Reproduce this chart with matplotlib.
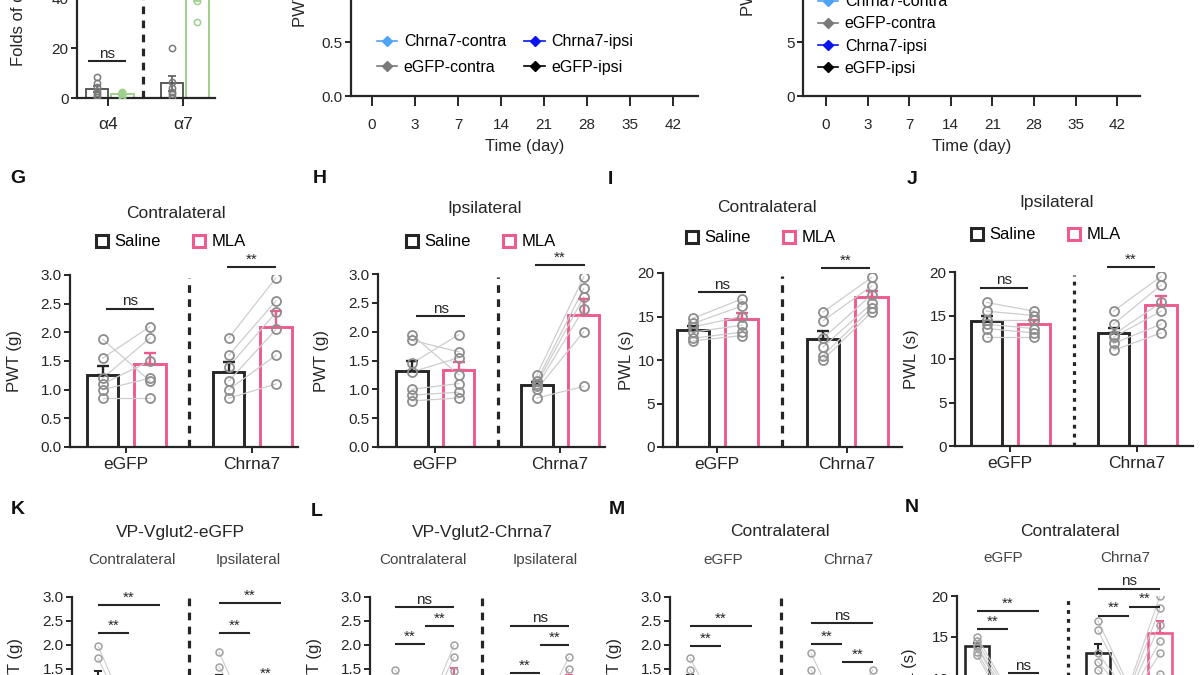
import numpy as np
import matplotlib
matplotlib.use("Agg")
import matplotlib.pyplot as plt
from matplotlib.lines import Line2D
from matplotlib.ticker import FormatStrFormatter

plt.rcParams['font.family'] = ['Liberation Sans', 'DejaVu Sans']

# ======================= DATA =======================
# top-left: fold change of nAChR subunits
subunits = ["α4", "α7"]
fold_egfp = [[8.4, 6.0, 4.5, 3.0, 2.0, 1.2, 0.5], [20.0, 6.5, 4.0, 2.5, 1.5, 0.5]]
fold_chrna7 = [[2.6, 2.0, 1.5, 1.0, 0.6], [30.5, 39.0, 52.0, 60.0]]

# time courses (values lie above the visible crop)
days = [0, 3, 7, 14, 21, 28, 35, 42]
series_names = ["Chrna7-contra", "eGFP-contra", "Chrna7-ipsi", "eGFP-ipsi"]
pwt_chrna7_contra = [1.55, 1.30, 1.22, 1.18, 1.20, 1.25, 1.30, 1.35]
pwt_egfp_contra = [1.58, 1.50, 1.52, 1.48, 1.55, 1.52, 1.56, 1.50]
pwt_chrna7_ipsi = [1.60, 1.25, 1.15, 1.12, 1.14, 1.20, 1.24, 1.30]
pwt_egfp_ipsi = [1.55, 1.52, 1.48, 1.50, 1.47, 1.52, 1.50, 1.55]
pwl_chrna7_contra = [14.5, 12.5, 12.0, 11.8, 12.0, 12.3, 12.8, 13.0]
pwl_egfp_contra = [14.2, 14.0, 13.8, 14.1, 13.9, 14.2, 14.0, 14.3]
pwl_chrna7_ipsi = [14.8, 12.2, 11.8, 11.6, 11.9, 12.2, 12.5, 12.9]
pwl_egfp_ipsi = [14.5, 14.2, 14.4, 14.0, 14.3, 14.1, 14.4, 14.2]

# G-J: saline vs MLA (paired)
categories = ["eGFP", "Chrna7"]
g_saline = [[1.88, 1.55, 1.20, 1.10, 1.00, 0.85], [1.90, 1.60, 1.40, 1.15, 1.00, 0.85]]
g_mla = [[1.15, 2.10, 1.90, 1.50, 1.20, 0.85], [2.95, 2.55, 2.35, 2.05, 1.60, 1.10]]
h_saline = [[1.95, 1.85, 1.45, 1.30, 1.00, 0.90, 0.80], [1.25, 1.15, 1.10, 1.05, 1.00, 0.85]]
h_mla = [[1.25, 1.65, 1.95, 1.55, 1.10, 0.95, 0.85], [2.95, 2.75, 2.60, 2.40, 2.00, 1.05]]
i_saline = [[14.8, 14.2, 13.8, 13.2, 12.5, 12.2], [15.5, 14.5, 12.5, 11.5, 10.5, 10.0]]
i_mla = [[17.0, 16.2, 15.0, 14.0, 13.2, 12.8], [19.5, 18.5, 17.5, 16.5, 16.0, 15.5]]
j_saline = [[16.5, 15.5, 14.5, 14.0, 13.5, 12.5], [15.5, 14.0, 12.8, 12.5, 11.8, 11.0]]
j_mla = [[15.5, 15.0, 14.5, 13.5, 13.0, 12.5], [19.5, 18.5, 16.5, 15.5, 14.0, 13.0]]

# K-N: three time points per half (only the top is visible)
k_groups = [[1.98, 1.72, 1.20, 1.00, 0.85, 0.70], [0.50, 0.40, 0.35, 0.30, 0.25, 0.20],
            [0.80, 0.70, 0.60, 0.50, 0.40, 0.35],
            [1.85, 1.55, 1.20, 1.00, 0.85, 0.70], [0.45, 0.40, 0.35, 0.30, 0.25, 0.20],
            [0.90, 0.80, 0.70, 0.60, 0.50, 0.40]]
l_groups = [[1.48, 1.30, 1.10, 1.00, 0.90, 0.80], [0.50, 0.45, 0.40, 0.35, 0.30, 0.25],
            [2.00, 1.75, 1.45, 1.15, 0.90, 0.60],
            [1.30, 1.20, 1.10, 1.00, 0.90, 0.80], [0.55, 0.45, 0.40, 0.35, 0.30, 0.25],
            [1.75, 1.50, 1.30, 1.10, 0.90, 0.70]]
m_groups = [[1.73, 1.48, 1.30, 1.10, 0.95, 0.80], [0.50, 0.40, 0.35, 0.30, 0.25, 0.20],
            [0.60, 0.50, 0.45, 0.40, 0.35, 0.30],
            [1.83, 1.48, 1.20, 1.00, 0.90, 0.80], [0.50, 0.45, 0.40, 0.35, 0.30, 0.25],
            [1.48, 1.30, 1.10, 0.90, 0.80, 0.60]]
n_groups = [[15.0, 14.5, 14.0, 13.8, 13.2, 12.8], [8.5, 8.0, 7.5, 7.0, 6.5, 6.0],
            [9.0, 8.5, 8.0, 7.5, 7.0, 6.5],
            [17.0, 15.8, 13.0, 12.0, 11.0, 9.2], [9.0, 8.5, 8.0, 7.5, 7.0, 6.5],
            [20.0, 18.5, 16.5, 14.5, 13.0, 10.5]]

# ======================= STYLE / LAYOUT =======================
W, H = 1200, 675
fig = plt.figure(figsize=(W / 100, H / 100), dpi=100)

INK = '#262626'
PINK = '#EE5B8E'
GREEN = '#9DD08C'
PT = '#8e8e8e'
LINK = '#cdcdcd'

FS_TICK = 11
FS_CAT = 12.5
FS_TITLE = 12.5
FS_LAB = 12
FS_LEG = 12
FS_SIG = 11
FS_SUB = 11


def px_axes(x0, x1, y_top, y_bot):
    return fig.add_axes([x0 / W, 1 - y_bot / H, (x1 - x0) / W, (y_bot - y_top) / H])


def ftext(x, y, s, **kw):
    fig.text(x / W, 1 - y / H, s, **kw)


def style(ax):
    for s in ['top', 'right']:
        ax.spines[s].set_visible(False)
    for s in ['left', 'bottom']:
        ax.spines[s].set_linewidth(1.6)
        ax.spines[s].set_color(INK)
    ax.tick_params(width=1.4, length=4, color=INK, labelsize=FS_TICK, labelcolor=INK, pad=2)
    ax.patch.set_alpha(0)


def sig(ax, x1, x2, y, txt, fs=FS_SIG):
    ax.plot([x1, x2], [y, y], color=INK, lw=1.5, clip_on=False, solid_capstyle='butt', zorder=6)
    ax.annotate(txt, ((x1 + x2) / 2, y), xytext=(0, 0.3), textcoords='offset points',
                ha='center', va='bottom', fontsize=fs, color=INK, annotation_clip=False)


def sep(ax, x, y0, y1, dotted=False):
    ls = (0, (1.2, 1.6)) if dotted else (0, (2.4, 2.0))
    ax.plot([x, x], [y0, y1], color=INK, lw=2.3, ls=ls, clip_on=False, zorder=1)


def letter(x, y, s):
    ftext(x, y, s, fontsize=14, fontweight='bold', ha='center', va='center', color='#111')


# ---------------- top-left: fold change ----------------
ax = px_axes(77, 215, -52, 98)
style(ax)
ax.set_ylim(0, 60)
ax.set_xlim((77 - 108) / 75, (215 - 108) / 75)
for gi in range(2):
    for vals, off, col in ((fold_egfp[gi], -0.15, '#5a5a5a'), (fold_chrna7[gi], 0.19, GREEN)):
        v = np.array(vals)
        mean = v.mean()
        sem = v.std(ddof=1) / np.sqrt(len(v))
        ax.bar(gi + off, mean, width=0.3, facecolor='none', edgecolor=col, lw=1.4, zorder=2)
        ax.errorbar(gi + off, mean, yerr=sem, fmt='none', ecolor=col, elinewidth=1.2,
                    capsize=3, capthick=1.2, zorder=3)
        ax.plot(np.full(len(v), gi + off), v, 'o', ms=4.5, mfc='none',
                mec=('#7a7a7a' if col != GREEN else GREEN), mew=1.1, zorder=4)
ax.set_yticks([0, 20, 40, 60])
ax.set_xticks([0, 1])
ax.set_xticklabels(subunits, fontsize=FS_CAT)
ax.tick_params(axis='x', length=6, pad=8)
ax.set_ylabel("Folds of change", fontsize=FS_LAB, color=INK)
ax.yaxis.set_label_coords((26 - 77) / 138, 0.613)
sep(ax, 0.47, 0, 60)
sig(ax, -0.27, 0.24, 14.8, "ns")

# ---------------- time courses ----------------
colors_tc = {"Chrna7-contra": '#4FA3F7', "eGFP-contra": '#7a7a7a',
             "Chrna7-ipsi": '#0a14f0', "eGFP-ipsi": '#000000'}
pwt = {"Chrna7-contra": pwt_chrna7_contra, "eGFP-contra": pwt_egfp_contra,
       "Chrna7-ipsi": pwt_chrna7_ipsi, "eGFP-ipsi": pwt_egfp_ipsi}
pwl = {"Chrna7-contra": pwl_chrna7_contra, "eGFP-contra": pwl_egfp_contra,
       "Chrna7-ipsi": pwl_chrna7_ipsi, "eGFP-ipsi": pwl_egfp_ipsi}


def time_panel(x0, x1, t0, step, ytop, ybot, ylim, yticks, fmt, data, ylabel, lab_x, lab_frac):
    ax = px_axes(x0, x1, ytop, ybot)
    style(ax)
    ax.set_ylim(*ylim)
    ax.set_xlim((x0 - t0) / step, (x1 - t0) / step)
    idx = np.arange(len(days))
    handles = []
    for name in series_names:
        ln, = ax.plot(idx, data[name], '-D', color=colors_tc[name], ms=5.5, lw=1.2, label=name)
        handles.append(ln)
    ax.set_xticks(idx)
    ax.set_xticklabels([str(d) for d in days], fontsize=FS_TICK)
    ax.set_yticks(yticks)
    ax.yaxis.set_major_formatter(FormatStrFormatter(fmt))
    ax.tick_params(axis='x', length=7, pad=9)
    ax.set_xlabel("Time (day)", fontsize=FS_LAB, color=INK, labelpad=5)
    ax.set_ylabel(ylabel, fontsize=FS_LAB, color=INK)
    ax.yaxis.set_label_coords((lab_x - x0) / (x1 - x0), lab_frac)
    return ax, handles


TL_FS = 11.5
em = TL_FS * 100 / 72
axm, hm = time_panel(351, 698, 372, 43, -120, 96, (0, 2.0), [0, 0.5, 1.0, 1.5, 2.0], '%.1f',
                     pwt, "PWT (g)", 308, (96 + 4) / 216)
fig.legend(hm, series_names, loc='center left',
           bbox_to_anchor=((387 - 0.65 * em) / W, 1 - 54.5 / H),
           ncol=2, frameon=False, fontsize=TL_FS, handlelength=1.3, handletextpad=0.4,
           columnspacing=1.15, labelspacing=0.67, borderpad=0, borderaxespad=0)

axr, hr = time_panel(803, 1140, 826, 41.6, -120, 96, (0, 20), [0, 5, 10, 15, 20], '%d',
                     pwl, "PWL (s)", 756, (96 + 14) / 216)
fig.legend(hr, series_names, loc='center left',
           bbox_to_anchor=((828 - 0.65 * em) / W, 1 - 35 / H),
           ncol=1, frameon=False, fontsize=TL_FS, handlelength=1.3, handletextpad=0.4,
           labelspacing=0.45, borderpad=0, borderaxespad=0)


# ---------------- G-J ----------------
def pair_panel(x0, x1, ytop, ybot, t0, t1, ylim, yticks, fmt, saline, mla, ylabel, lab_x,
               title, title_xy, leg_xy, sigs, dotted=False):
    ax = px_axes(x0, x1, ytop, ybot)
    style(ax)
    ax.set_xlim((x0 - t0) / (t1 - t0), (x1 - t0) / (t1 - t0))
    ax.set_ylim(*ylim)
    for gi in range(2):
        s = np.array(saline[gi])
        m = np.array(mla[gi])
        xs, xm = gi - 0.185, gi + 0.19
        for a, b in zip(s, m):
            ax.plot([xs, xm], [a, b], color=LINK, lw=0.9, zorder=3)
        for vals, xc, col in ((s, xs, INK), (m, xm, PINK)):
            mean = vals.mean()
            sem = vals.std(ddof=1) / np.sqrt(len(vals))
            ax.bar(xc, mean, width=0.25, facecolor='white', edgecolor=col, lw=2.1, zorder=2)
            ax.errorbar(xc, mean, yerr=[[0], [sem]], fmt='none', ecolor=col, elinewidth=1.7,
                        capsize=4, capthick=1.7, zorder=4)
            ax.plot(np.full(len(vals), xc), vals, 'o', ms=6.5, mfc='none', mec=PT, mew=1.3, zorder=5)
    sep(ax, 0.5, ylim[0], ylim[1] * 0.985, dotted)
    ax.set_yticks(yticks)
    ax.yaxis.set_major_formatter(FormatStrFormatter(fmt))
    ax.set_xticks([0, 1])
    ax.set_xticklabels(categories, fontsize=FS_CAT)
    ax.tick_params(axis='x', pad=3.5)
    ax.set_ylabel(ylabel, fontsize=FS_LAB, color=INK)
    ax.yaxis.set_label_coords((lab_x - x0) / (x1 - x0), 0.5)
    for (xa, xb, y, txt) in sigs:
        sig(ax, xa, xb, y, txt)
    ftext(title_xy[0], title_xy[1], title, fontsize=FS_TITLE, ha='center', va='center', color=INK)
    hs = [Line2D([], [], marker='s', ls='none', mfc='white', mec=INK, mew=2.2, ms=8),
          Line2D([], [], marker='s', ls='none', mfc='white', mec=PINK, mew=2.2, ms=8)]
    lem = FS_LEG * 100 / 72
    fig.legend(hs, ['Saline', 'MLA'], loc='center left',
               bbox_to_anchor=((leg_xy[0] - 0.35 * lem) / W, 1 - leg_xy[1] / H), ncol=2,
               frameon=False, fontsize=FS_LEG, handlelength=0.7, handletextpad=0.4,
               columnspacing=1.95, borderpad=0, borderaxespad=0)
    return ax


pair_panel(70, 298, 275, 447, 126, 252, (0, 3), np.arange(0, 3.01, 0.5), '%.1f',
           g_saline, g_mla, "PWT (g)", 22, "Contralateral", (176, 213), (102, 242),
           [(-0.16, 0.22, 2.41, "ns"), (0.80, 1.19, 3.14, "**")])
pair_panel(378, 605, 274, 447, 435, 560, (0, 3), np.arange(0, 3.01, 0.5), '%.1f',
           h_saline, h_mla, "PWT (g)", 329, "Ipsilateral", (485, 208), (412, 242),
           [(-0.15, 0.24, 2.27, "ns"), (-0.2 + 1, 0.2 + 1, 3.16, "**")])
pair_panel(663, 902, 273, 447, 717, 847, (0, 20), [0, 5, 10, 15, 20], '%d',
           i_saline, i_mla, "PWL (s)", 634, "Contralateral", (767, 208), (692, 238),
           [(-0.15, 0.22, 17.8, "ns"), (0.8, 1.18, 20.6, "**")])
pair_panel(955, 1193, 272, 446, 1010, 1137, (0, 20), [0, 5, 10, 15, 20], '%d',
           j_saline, j_mla, "PWL (s)", 919, "Ipsilateral", (1057, 202), (977, 235),
           [(-0.24, 0.14, 18.2, "ns"), (-0.24 + 1, 0.14 + 1, 20.6, "**")], dotted=True)


# ---------------- K-N ----------------
POS = [0, 1, 2, 3.9, 4.9, 5.9]
GCOL = [INK, INK, PINK, INK, INK, PINK]


def seq_panel(x0, x1, ytop, ybot, g1, unit, ylim, yticks, fmt, groups, ylabel, lab_x,
              title, title_xy, subs, sub_xy, sigs, dotted=False):
    ax = px_axes(x0, x1, ytop, ybot)
    style(ax)
    ax.set_xlim((x0 - g1) / unit, (x1 - g1) / unit)
    ax.set_ylim(*ylim)
    for half in (0, 3):
        for k in range(2):
            a = groups[half + k]
            b = groups[half + k + 1]
            for va, vb in zip(a, b):
                ax.plot([POS[half + k], POS[half + k + 1]], [va, vb], color=LINK, lw=0.8, zorder=3)
    for p, vals, col in zip(POS, groups, GCOL):
        v = np.array(vals)
        mean = v.mean()
        sem = v.std(ddof=1) / np.sqrt(len(v))
        ax.bar(p, mean, width=0.8, facecolor='white', edgecolor=col, lw=1.9, zorder=2)
        ax.errorbar(p, mean, yerr=[[0], [sem]], fmt='none', ecolor=col, elinewidth=1.5,
                    capsize=3, capthick=1.5, zorder=4)
        ax.plot(np.full(len(v), p), v, 'o', ms=5, mfc='none', mec='#a0a0a0', mew=1.1, zorder=5)
    sep(ax, 2.95, ylim[0], ylim[1] * 0.99, dotted)
    ax.set_yticks(yticks)
    ax.yaxis.set_major_formatter(FormatStrFormatter(fmt))
    ax.set_xticks([])
    ax.set_ylabel(ylabel, fontsize=FS_LAB, color=INK)
    ax.yaxis.set_label_coords((lab_x - x0) / (x1 - x0), 0.5)
    for (i, j, y, txt) in sigs:
        sig(ax, POS[i], POS[j], y, txt)
    ftext(title_xy[0], title_xy[1], title, fontsize=FS_TITLE, ha='center', va='center', color=INK)
    for s, (sx, sy) in zip(subs, sub_xy):
        ftext(sx, sy, s, fontsize=FS_SUB, ha='center', va='center', color='#444')
    return ax


seq_panel(72, 295, 597, 741, 98, 31, (0, 3), np.arange(0, 3.01, 0.5), '%.1f', k_groups,
          "PWT (g)", 23, "VP-Vglut2-eGFP", (180, 533), ["Contralateral", "Ipsilateral"],
          [(132, 560), (248, 560)],
          [(0, 2, 2.83, "**"), (0, 1, 2.25, "**"), (3, 5, 2.88, "**"), (3, 4, 2.25, "**"),
           (4, 5, 1.25, "**")])
seq_panel(370, 590, 597, 741, 395, 29.5, (0, 3), np.arange(0, 3.01, 0.5), '%.1f', l_groups,
          "PWT (g)", 322, "VP-Vglut2-Chrna7", (482, 532), ["Contralateral", "Ipsilateral"],
          [(423, 560), (545, 560)],
          [(0, 2, 2.79, "ns"), (1, 2, 2.40, "**"), (0, 1, 2.02, "**"),
           (3, 5, 2.40, "ns"), (4, 5, 2.00, "**"), (3, 4, 1.42, "**")])
seq_panel(670, 895, 597, 741, 690, 31, (0, 3), np.arange(0, 3.01, 0.5), '%.1f', m_groups,
          "PWT (g)", 622, "Contralateral", (780, 532), ["eGFP", "Chrna7"],
          [(723, 560), (848, 560)],
          [(0, 2, 2.40, "**"), (0, 1, 1.98, "**"), (3, 5, 2.46, "ns"), (3, 4, 2.02, "**"),
           (4, 5, 1.65, "**")])
seq_panel(957, 1190, 596, 760, 977, 31, (0, 20), [0, 5, 10, 15, 20], '%d', n_groups,
          "PWL (s)", 917, "Contralateral", (1070, 532), ["eGFP", "Chrna7"],
          [(1003, 558), (1125, 558)],
          [(0, 2, 18.2, "**"), (0, 1, 16.0, "**"), (1, 2, 10.6, "ns"), (3, 5, 20.9, "ns"),
           (4, 5, 18.7, "**"), (3, 4, 17.6, "**")], dotted=True)

# panel letters
for s, (x, y) in {"G": (18, 178), "H": (320, 178), "I": (610, 180), "J": (912, 180),
                  "K": (18, 510), "L": (317, 512), "M": (617, 510), "N": (912, 507)}.items():
    letter(x, y, s)

fig.savefig("out.png", dpi=100)
